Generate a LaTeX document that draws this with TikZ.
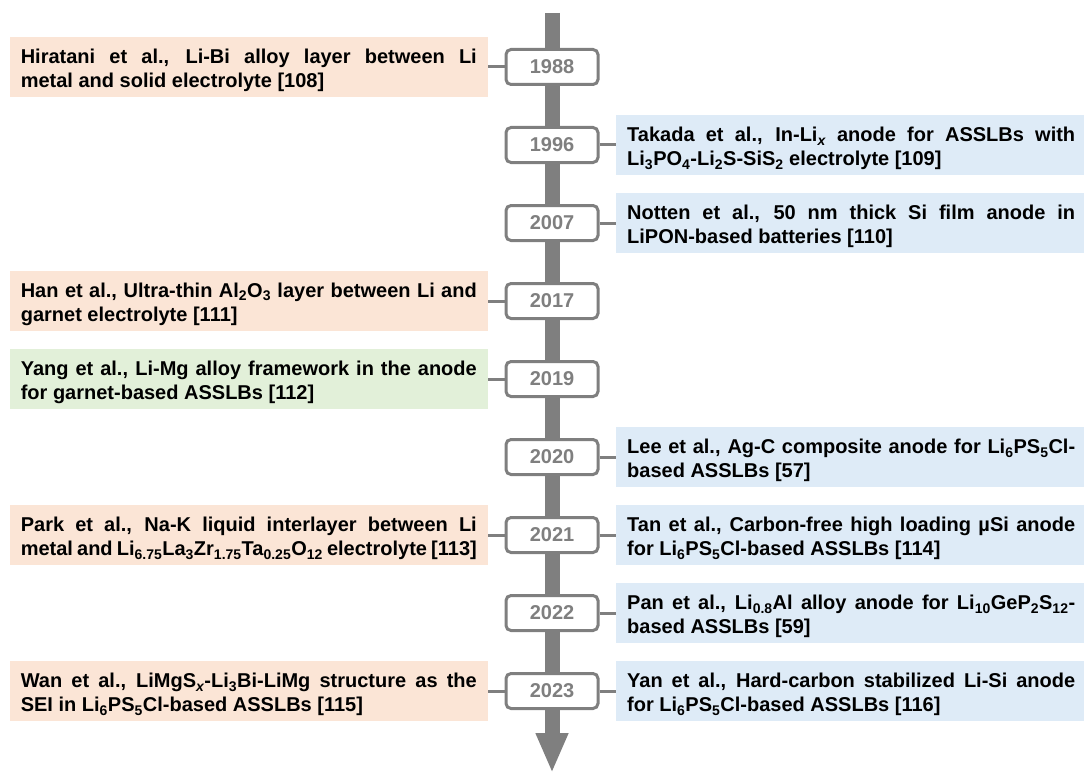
\documentclass[tikz,border=0pt]{standalone}
\usepackage{fontspec}
\setmainfont{Liberation Sans}
\usetikzlibrary{positioning,arrows.meta}
\definecolor{evorange}{HTML}{FBE5D6}
\definecolor{evblue}{HTML}{DEEBF7}
\definecolor{evgreen}{HTML}{E2F0D9}
\definecolor{linegray}{HTML}{7F7F7F}
\newcommand{\tsub}[1]{\textsubscript{#1}}

\begin{document}
\begin{tikzpicture}[x=1pt, y=-1pt,
    every node/.style={font=\fontsize{20}{24}\selectfont\bfseries},
    yearbox/.style={draw=linegray, line width=3pt, rounded corners=5pt, fill=white, text=linegray,
                    minimum width=92pt, minimum height=35pt, inner sep=0pt},
    leftbox/.style={fill=evorange, text width=456pt, inner xsep=11pt, inner ysep=0pt, minimum height=60pt,
                    align=justify, left=16.5pt of #1,
                    execute at begin node={\tolerance=9999\hyphenpenalty=10000\rule{0pt}{22pt}}},
    rightbox/.style={fill=evblue, text width=448pt, inner xsep=11pt, inner ysep=0pt, minimum height=60pt,
                    align=justify, right=16.5pt of #1,
                    execute at begin node={\tolerance=9999\hyphenpenalty=10000\rule{0pt}{22pt}}},
    link/.style={draw=linegray, line width=3pt}]
    \useasboundingbox (0,0) rectangle (1084,773);

    \coordinate (top) at (552,13);
    \coordinate (tip) at (552,773);
    \draw[draw=linegray, line width=15pt, -{Triangle[width=30pt, length=40pt]}] (top) -- (tip);

    \node[yearbox] (y1988) at (552,67)  {1988};
    \node[yearbox] (y1996) at (552,145) {1996};
    \node[yearbox] (y2007) at (552,223) {2007};
    \node[yearbox] (y2017) at (552,301) {2017};
    \node[yearbox] (y2019) at (552,379) {2019};
    \node[yearbox] (y2020) at (552,457) {2020};
    \node[yearbox] (y2021) at (552,535) {2021};
    \node[yearbox] (y2022) at (552,613) {2022};
    \node[yearbox] (y2023) at (552,691) {2023};

    \node[leftbox=y1988] (l1988) {Hiratani et al., Li-Bi alloy layer between Li\linebreak metal and solid electrolyte [108]};
    \node[rightbox=y1996] (r1996) {Takada et al., In-Li\tsub{\itshape x} anode for ASSLBs with\linebreak Li\tsub{3}PO\tsub{4}-Li\tsub{2}S-SiS\tsub{2} electrolyte [109]};
    \node[rightbox=y2007] (r2007) {Notten et al., 50 nm thick Si film anode in\linebreak LiPON-based batteries [110]};
    \node[leftbox=y2017] (l2017) {Han et al., Ultra-thin Al\tsub{2}O\tsub{3} layer between Li and\linebreak garnet electrolyte [111]};
    \node[leftbox=y2019, fill=evgreen] (l2019) {Yang et al., Li-Mg alloy framework in the anode\linebreak for garnet-based ASSLBs [112]};
    \node[rightbox=y2020] (r2020) {Lee et al., Ag-C composite anode for Li\tsub{6}PS\tsub{5}Cl-\linebreak based ASSLBs [57]};
    \node[leftbox=y2021] (l2021) {Park et al., Na-K liquid interlayer between Li\linebreak metal and Li\tsub{6.75}La\tsub{3}Zr\tsub{1.75}Ta\tsub{0.25}O\tsub{12} electrolyte [113]};
    \node[rightbox=y2021] (r2021) {Tan et al., Carbon-free high loading µSi anode\linebreak for Li\tsub{6}PS\tsub{5}Cl-based ASSLBs [114]};
    \node[rightbox=y2022] (r2022) {Pan et al., Li\tsub{0.8}Al alloy anode for Li\tsub{10}GeP\tsub{2}S\tsub{12}-\linebreak based ASSLBs [59]};
    \node[leftbox=y2023] (l2023) {Wan et al., LiMgS\tsub{\itshape x}-Li\tsub{3}Bi-LiMg structure as the\linebreak SEI in Li\tsub{6}PS\tsub{5}Cl-based ASSLBs [115]};
    \node[rightbox=y2023] (r2023) {Yan et al., Hard-carbon stabilized Li-Si anode\linebreak for Li\tsub{6}PS\tsub{5}Cl-based ASSLBs [116]};

    \draw[link] (l1988.east) -- (y1988.west);
    \draw[link] (y1996.east) -- (r1996.west);
    \draw[link] (y2007.east) -- (r2007.west);
    \draw[link] (l2017.east) -- (y2017.west);
    \draw[link] (l2019.east) -- (y2019.west);
    \draw[link] (y2020.east) -- (r2020.west);
    \draw[link] (l2021.east) -- (y2021.west);
    \draw[link] (y2021.east) -- (r2021.west);
    \draw[link] (y2022.east) -- (r2022.west);
    \draw[link] (l2023.east) -- (y2023.west);
    \draw[link] (y2023.east) -- (r2023.west);
\end{tikzpicture}
\end{document}
